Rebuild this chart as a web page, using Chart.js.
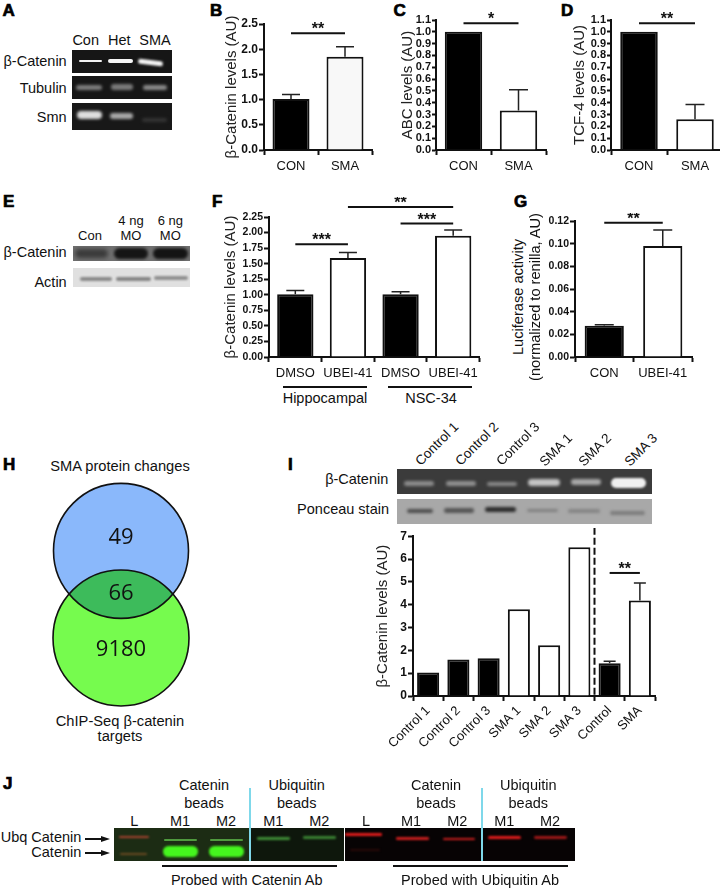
<!DOCTYPE html>
<html lang="en">
<head>
<meta charset="UTF-8">
<title>Catenin figure</title>
<script src="https://cdn.jsdelivr.net/npm/chart.js"></script>
<style>
  html, body { margin: 0; background: #fff; }
  #page { position: relative; width: 720px; height: 889px; overflow: hidden; font-family: "Liberation Sans", Arial, sans-serif; color: #111; }
  #page canvas { position: absolute; display: block; }
  .t { position: absolute; white-space: nowrap; line-height: 1; }
  .letter { font-weight: bold; font-size: 17px; -webkit-text-stroke: 0.7px #000; color: #000; }
  .blot { position: absolute; overflow: hidden; }
  .band { position: absolute; }
  .rule { position: absolute; background: #111; }
</style>
</head>
<body>
<div id="page"></div>
<script>
// panel B
const catsB = ['CON', 'SMA'];
const valuesB = [1.01, 1.85];
const errB = [1.10, 2.05];
// panel C
const catsC = ['CON', 'SMA'];
const valuesC = [1.0, 0.335];
const errC = [null, 0.51];
// panel D
const catsD = ['CON', 'SMA'];
const valuesD = [1.0, 0.26];
const errD = [null, 0.385];
// panel F
const catsF = ['DMSO', 'UBEI-41', 'DMSO', 'UBEI-41'];
const valuesF = [1.01, 1.59, 1.01, 1.95];
const errF = [1.07, 1.68, 1.05, 2.04];
// panel G
const catsG = ['CON', 'UBEI-41'];
const valuesG = [0.0275, 0.098];
const errG = [0.0285, 0.112];
// panel I
const catsI = ['Control 1', 'Control 2', 'Control 3', 'SMA 1', 'SMA 2', 'SMA 3', 'Control', 'SMA'];
const valuesI = [1.03, 1.6, 1.65, 3.8, 2.22, 6.52, 1.43, 4.18];
const errI = [null, null, null, null, null, null, 1.52, 4.95];
// panel H
const vennCounts = ['49', '66', '9180'];
const vennX = [0.5, 0.5];
const vennY = [0.684, 0.321];
const vennR = [67.5, 68];
const vennCountY = [0.7375, 0.504, 0.274];

const page = document.getElementById('page');
const FONT = '"Liberation Sans", Arial, sans-serif';

function txt(s, x, y, size, align, extra) {
  const d = document.createElement('div');
  d.className = 't';
  d.textContent = s;
  d.style.left = x + 'px';
  d.style.top = y + 'px';
  d.style.fontSize = size + 'px';
  const tx = align === 'r' ? '-100%' : align === 'l' ? '0' : '-50%';
  d.style.transform = 'translate(' + tx + ',-50%)' + (extra || '');
  page.appendChild(d);
}

function letter(s, x, y) {
  const d = document.createElement('div');
  d.className = 't letter';
  d.textContent = s;
  d.style.left = x + 'px';
  d.style.top = y + 'px';
  d.style.transform = 'translateY(-50%)';
  page.appendChild(d);
}

function rule(x1, x2, y, h, color) {
  const d = document.createElement('div');
  d.className = 'rule';
  d.style.cssText = 'left:' + x1 + 'px;top:' + (y - (h || 2) / 2) + 'px;width:' + (x2 - x1) + 'px;height:' + (h || 2) + 'px;' + (color ? 'background:' + color : '');
  page.appendChild(d);
}

function arrow(x1, x2, y) {
  rule(x1, x2 - 6, y, 1.6);
  const d = document.createElement('div');
  d.style.cssText = 'position:absolute;left:' + (x2 - 9) + 'px;top:' + (y - 3) + 'px;border-left:9px solid #111;border-top:3px solid transparent;border-bottom:3px solid transparent';
  page.appendChild(d);
}

// gel photos, bands = [x1, x2, yCentre, height, colour, blur, rotate]
function blot(x1, x2, y1, y2, bg, bands) {
  const d = document.createElement('div');
  d.className = 'blot';
  d.style.cssText = 'left:' + x1 + 'px;top:' + y1 + 'px;width:' + (x2 - x1) + 'px;height:' + (y2 - y1) + 'px;background:' + bg;
  bands.forEach(b => {
    const e = document.createElement('div');
    e.className = 'band';
    e.style.cssText = 'left:' + (b[0] - x1) + 'px;top:' + (b[2] - b[3] / 2 - y1) + 'px;width:' + (b[1] - b[0]) + 'px;height:' + b[3] + 'px;background:' + b[4] +
      ';filter:blur(' + (b[5] === undefined ? 1 : b[5]) + 'px);border-radius:' + b[3] / 2 + 'px;transform:rotate(' + (b[6] || 0) + 'deg)';
    d.appendChild(e);
  });
  page.appendChild(d);
}

function marksPlugin(values, errs, sigs, capW, divider) {
  return {
    id: 'marks',
    afterDatasetsDraw(chart) {
      const c = chart.ctx, xs = chart.scales.x, ys = chart.scales.y;
      c.save();
      c.strokeStyle = '#222';
      c.lineWidth = 1.5;
      errs.forEach((e, i) => {
        if (e === null) return;
        const x = xs.getPixelForValue(i), top = ys.getPixelForValue(e);
        c.beginPath();
        c.moveTo(x, ys.getPixelForValue(values[i]));
        c.lineTo(x, top);
        c.moveTo(x - capW / 2, top);
        c.lineTo(x + capW / 2, top);
        c.stroke();
      });
      c.lineWidth = 2;
      c.strokeStyle = '#111';
      c.fillStyle = '#111';
      c.font = 'bold 16px ' + FONT;
      c.textAlign = 'center';
      c.textBaseline = 'alphabetic';
      sigs.forEach(s => {
        const x1 = xs.getPixelForValue(s.from), x2 = xs.getPixelForValue(s.to), y = ys.getPixelForValue(s.at);
        c.beginPath();
        c.moveTo(x1, y);
        c.lineTo(x2, y);
        c.stroke();
        c.fillText(s.stars, (x1 + x2) / 2, y + 1);
      });
      if (divider) {
        const x = xs.getPixelForValue(divider.at);
        c.setLineDash([7, 3]);
        c.lineWidth = 2;
        c.beginPath();
        c.moveTo(x, ys.getPixelForValue(divider.top));
        c.lineTo(x, ys.getPixelForValue(0));
        c.stroke();
      }
      c.restore();
    }
  };
}

function barPanel(p) {
  const m = p.margin;
  const left = p.left - m.l, top = p.top - m.t;
  const w = p.right - p.left + m.l + m.r, h = p.bottom - p.top + m.t + m.b;
  const cv = document.createElement('canvas');
  cv.width = w;
  cv.height = h;
  cv.style.left = left + 'px';
  cv.style.top = top + 'px';
  page.appendChild(cv);
  new Chart(cv.getContext('2d'), {
    type: 'bar',
    data: {
      labels: p.cats,
      datasets: [{
        data: p.values,
        backgroundColor: p.fills,
        borderColor: '#111',
        borderWidth: 2,
        borderSkipped: 'start',
        barPercentage: p.barPct,
        categoryPercentage: 1
      }]
    },
    options: {
      responsive: false,
      animation: false,
      layout: { padding: { left: 0, top: m.t, right: m.r, bottom: 0 } },
      plugins: { legend: { display: false }, tooltip: { enabled: false } },
      scales: {
        x: {
          grid: { display: true, drawOnChartArea: false, tickLength: 5, tickWidth: 2, tickColor: '#111' },
          border: { color: '#111', width: 2 },
          ticks: {
            color: '#111', font: { family: FONT, size: 13 }, padding: p.xPad === undefined ? 4 : p.xPad, autoSkip: false,
            maxRotation: p.rotate || 0, minRotation: p.rotate || 0
          },
          afterFit: s => { s.height = m.b; }
        },
        y: {
          min: 0,
          max: p.max,
          grid: { display: true, drawOnChartArea: false, tickLength: p.tickLen || 5, tickWidth: 2, tickColor: '#111' },
          border: { color: '#111', width: 2 },
          title: p.title ? { display: true, text: p.title, color: '#222', font: { family: FONT, size: p.titleSize || 15 }, padding: 0 } : { display: false },
          ticks: {
            color: '#111', font: { family: FONT, size: p.tickSize, weight: 'bold' }, padding: 1, stepSize: p.step,
            autoSkip: false, callback: v => p.decimals === 0 ? String(v) : v.toFixed(p.decimals)
          },
          afterFit: s => { s.width = m.l; }
        }
      }
    },
    plugins: [marksPlugin(p.values, p.errs, p.sigs, p.capW, p.divider)]
  });
}

const K = '#000', W = '#fff';

// panel letters
letter('A', 2.5, 9.5); letter('B', 210, 9.5); letter('C', 393.5, 9.5); letter('D', 561, 9.5);
letter('E', 3, 201); letter('F', 212, 201); letter('G', 514, 201);
letter('H', 3, 464); letter('I', 288, 464); letter('J', 3, 783);

// A
txt('Con', 85.7, 39.7, 14.5); txt('Het', 119.3, 39.7, 14.5); txt('SMA', 155, 39.7, 14.5);
txt('β-Catenin', 66.7, 61, 14.5, 'r'); txt('Tubulin', 66.7, 87.7, 14.5, 'r'); txt('Smn', 66.7, 117, 14.5, 'r');
blot(71.7, 171.7, 50, 73.3, '#161616', [[78.7, 101.7, 60.8, 2.6, '#f2f2f2', 0.7], [108, 133, 61, 4.4, '#f5f5f5', 0.7], [138.5, 163.5, 62, 5, '#f2f2f2', 0.8, 7]]);
blot(71.7, 171.7, 76, 99.3, '#161616', [[76, 101.7, 87.5, 5, '#7d7d7d', 1.4], [110.7, 133, 86.8, 5.5, '#7a7a7a', 1.5], [143, 166.7, 87.3, 5.5, '#8a8a8a', 1.4]]);
blot(71.7, 171.7, 103.3, 130, '#181818', [[77, 101.7, 115, 8, '#dedede', 1.4], [110, 133, 116, 5.5, '#a8a8a8', 1.4], [142, 166.7, 120, 4, '#333', 1.6]]);

// B C D
barPanel({
  left: 263.5, right: 371.5, top: 23.5, bottom: 149.5, margin: { l: 41, r: 2, t: 23, b: 28 },
  cats: catsB, values: valuesB, errs: errB, fills: [K, '#f8f8f8'], barPct: 0.685, capW: 18, max: 2.5, step: 0.5, decimals: 1, tickSize: 12,
  title: 'β-Catenin levels (AU)',
  sigs: [{ from: 0, to: 1, at: 2.317, stars: '**' }]
});
barPanel({
  left: 436, right: 546.5, top: 19.7, bottom: 150, margin: { l: 37, r: 2, t: 19, b: 28 },
  cats: catsC, values: valuesC, errs: errC, fills: [K, W], barPct: 0.68, capW: 19, max: 1.1, step: 0.1, decimals: 1, tickSize: 11, tickLen: 4,
  title: 'ABC levels (AU)',
  sigs: [{ from: 0, to: 1, at: 1.072, stars: '*' }]
});
barPanel({
  left: 611, right: 723, top: 19.7, bottom: 150, margin: { l: 40, r: 0, t: 19, b: 28 },
  cats: catsD, values: valuesD, errs: errD, fills: [K, W], barPct: 0.67, capW: 19, max: 1.1, step: 0.1, decimals: 1, tickSize: 11, tickLen: 4,
  title: 'TCF-4 levels (AU)',
  sigs: [{ from: 0, to: 1, at: 1.072, stars: '**' }]
});

// E
txt('Con', 90, 235, 13); txt('4 ng', 131, 220, 13); txt('MO', 131, 235, 13); txt('6 ng', 170.3, 220, 13); txt('MO', 170.3, 235, 13);
txt('β-Catenin', 66.7, 252, 14.5, 'r'); txt('Actin', 66.7, 282, 14.5, 'r');
blot(73.3, 190, 245.7, 261, '#6f6f6f', [[75, 108, 253.5, 9, '#3a3a3a', 2], [114, 148, 253.5, 11, '#151515', 1.6], [153, 188, 253.5, 11, '#141414', 1.6]]);
blot(73.3, 190, 267.7, 287.3, '#e0e0e0', [[80, 112, 278.7, 4, '#8a8a8a', 1.2], [116, 151, 278.7, 4, '#858585', 1.2], [154, 188, 278, 4, '#8f8f8f', 1.2]]);

// F
barPanel({
  left: 269.3, right: 480.5, top: 216.7, bottom: 356.7, margin: { l: 47, r: 2, t: 20, b: 28 },
  cats: catsF, values: valuesF, errs: errF, fills: [K, W, K, W], barPct: 0.69, capW: 18, max: 2.25, step: 0.25, decimals: 2, tickSize: 10.5,
  title: 'β-Catenin levels (AU)',
  sigs: [
    { from: 0, to: 1, at: 1.811, stars: '***' },
    { from: 1, to: 3, at: 2.41, stars: '**' },
    { from: 2, to: 3, at: 2.144, stars: '***' }
  ]
});
rule(283, 366.7, 387.3, 2); rule(388, 471.7, 387.3, 2);
txt('Hippocampal', 325, 398, 14.5); txt('NSC-34', 431, 398, 14.5);

// G
barPanel({
  left: 575, right: 692.4, top: 221, bottom: 357.7, margin: { l: 34, r: 2, t: 8, b: 28 },
  cats: catsG, values: valuesG, errs: errG, fills: [K, W], barPct: 0.67, capW: 19, max: 0.12, step: 0.02, decimals: 2, tickSize: 10.5,
  sigs: [{ from: 0, to: 1, at: 0.1185, stars: '**' }]
});
txt('Luciferase activity', 518, 297, 14.6, 'c', ' rotate(-90deg)');
txt('(normalized to renilla, AU)', 535, 297, 14.6, 'c', ' rotate(-90deg)');

// H
txt('SMA protein changes', 120, 465.7, 14.7);
txt('ChIP-Seq β-catenin', 120, 721, 14.7); txt('targets', 120, 736, 14.7);
const vennCv = document.createElement('canvas');
vennCv.width = 160; vennCv.height = 240;
vennCv.style.left = '41.3px'; vennCv.style.top = '475px';
page.appendChild(vennCv);
new Chart(vennCv.getContext('2d'), {
  type: 'bubble',
  data: {
    datasets: [{
      data: vennX.map((x, i) => ({ x: x, y: vennY[i], r: vennR[i] })),
      backgroundColor: ['#8ab8fb', '#76fb4e'],
      borderWidth: 0,
      clip: false
    }]
  },
  options: {
    responsive: false,
    animation: false,
    layout: { autoPadding: false },
    plugins: { legend: { display: false }, tooltip: { enabled: false } },
    scales: {
      x: { display: false, min: 0, max: 1 },
      y: { display: false, min: 0, max: 1 }
    }
  },
  plugins: [{
    id: 'overlap',
    afterDatasetsDraw(chart) {
      const c = chart.ctx, pts = chart.getDatasetMeta(0).data;
      const arc = i => { c.beginPath(); c.arc(pts[i].x, pts[i].y, vennR[i], 0, Math.PI * 2); };
      c.save();
      arc(0); c.clip();
      arc(1); c.fillStyle = '#3dbb5b'; c.fill();
      c.restore();
      c.save();
      c.strokeStyle = '#111'; c.lineWidth = 1.6;
      arc(0); c.stroke();
      arc(1); c.stroke();
      c.fillStyle = '#111';
      c.font = '22px "Open Sans", sans-serif';
      c.textAlign = 'center'; c.textBaseline = 'middle';
      vennCounts.forEach((s, i) => {
        c.fillText(s, chart.scales.x.getPixelForValue(0.5), chart.scales.y.getPixelForValue(vennCountY[i]));
      });
      c.restore();
    }
  }]
});

// I
txt('β-Catenin', 388.3, 479.3, 14.5, 'r'); txt('Ponceau stain', 389, 509.3, 14.5, 'r');
[[437, 444, 'Control 1'], [477, 444, 'Control 2'], [518.3, 444, 'Control 3'], [556, 449.5, 'SMA 1'], [595, 449.5, 'SMA 2'], [641, 449.5, 'SMA 3']].forEach(l => {
  txt(l[2], l[0], l[1], 13.5, 'c', ' rotate(-45deg)');
});
blot(397.3, 651.7, 469.3, 494.3, '#3b3b3b', [
  [404, 434, 483.5, 5, '#8c8c8c', 1.5], [446, 476, 483.5, 5, '#909090', 1.5], [487.3, 517.3, 484, 4.5, '#8a8a8a', 1.5],
  [528.3, 560, 483, 7, '#c4c4c4', 1.4], [570.7, 600.7, 482, 6, '#a8a8a8', 1.4], [611, 645.7, 483, 10, '#f0f0f0', 1.2]
]);
blot(397.3, 651.7, 499.3, 524.3, '#a8a8a8', [
  [407, 433, 510.7, 4, '#4c4c4c', 1.8], [444, 474, 510.7, 4.5, '#555', 1.8], [485, 516, 510, 5, '#2b2b2b', 1.8],
  [527, 558, 510.7, 3.5, '#808080', 1.8], [568, 600, 511, 3.5, '#858585', 1.8], [610, 645, 513, 4, '#7c7c7c', 1.8]
]);
barPanel({
  left: 412.5, right: 654.5, top: 536, bottom: 696.7, margin: { l: 39, r: 4, t: 8, b: 62 },
  cats: catsI, values: valuesI, errs: errI, fills: [K, K, K, W, W, W, K, W], barPct: 0.73, capW: 12, max: 7, step: 1, decimals: 0, tickSize: 12,
  title: 'β-Catenin levels (AU)', rotate: 45, xPad: 2,
  sigs: [{ from: 6, to: 7, at: 5.39, stars: '**' }],
  divider: { at: 5.5, top: 7.37 }
});

// J
txt('Catenin', 204, 785.3, 14.5); txt('beads', 204, 803.3, 14.5); txt('Ubiquitin', 296.7, 785.3, 14.5); txt('beads', 296.7, 803.3, 14.5);
txt('Catenin', 436, 785.3, 14.5); txt('beads', 436, 803.3, 14.5); txt('Ubiquitin', 528.3, 785.3, 14.5); txt('beads', 528.3, 803.3, 14.5);
[['L', 134.3], ['M1', 180], ['M2', 226], ['M1', 273.3], ['M2', 319.3], ['L', 366], ['M1', 411], ['M2', 457.3], ['M1', 504.3], ['M2', 550]].forEach(l => txt(l[0], l[1], 820.7, 14.5));
txt('Ubq Catenin', 81.3, 837, 14.5, 'r'); txt('Catenin', 81.3, 852.3, 14.5, 'r');
arrow(85.3, 110, 839); arrow(85.3, 110, 853);
blot(114.3, 250, 827.7, 861, '#1c2c14', [
  [119.3, 149.3, 837, 2.6, '#a5432f', 0.8], [120, 147, 853.7, 2, '#6b4a22', 1],
  [164, 197, 840, 1.8, '#4f9a3e', 0.6], [210, 243, 840, 1.8, '#4f9a3e', 0.6],
  [163.3, 198.3, 851.5, 10.5, '#45f51e', 0.9], [209.3, 244.3, 851.5, 10.5, '#45f51e', 0.9]
]);
blot(250, 344, 827.7, 861, '#0e170c', [[257.3, 290, 838.3, 2.6, '#3f8d36', 0.8], [302.7, 336, 837.5, 2.6, '#3a8232', 0.8]]);
blot(345.3, 575, 827.7, 861, '#070304', [
  [345.3, 381.7, 834.3, 2.6, '#e01c1c', 0.8], [350, 380, 850, 2, '#2a0808', 1],
  [396, 429, 838.3, 2.6, '#c91e1e', 0.8], [442.7, 475, 839, 2.6, '#c91e1e', 0.8],
  [488.3, 520.7, 837.7, 3, '#e01c1c', 0.8], [534, 566.7, 837.7, 2.8, '#a01818', 1]
]);
rule(249.3, 250.8, 824.3, 73, '#7fd8ea');
rule(481, 482.5, 824.3, 73, '#7fd8ea');
rule(162.3, 336.7, 866, 1.8); rule(393.3, 567.7, 866, 1.8);
txt('Probed with Catenin Ab', 246.7, 880, 14.5); txt('Probed with Ubiquitin Ab', 480, 880, 14.5);
</script>
</body>
</html>
